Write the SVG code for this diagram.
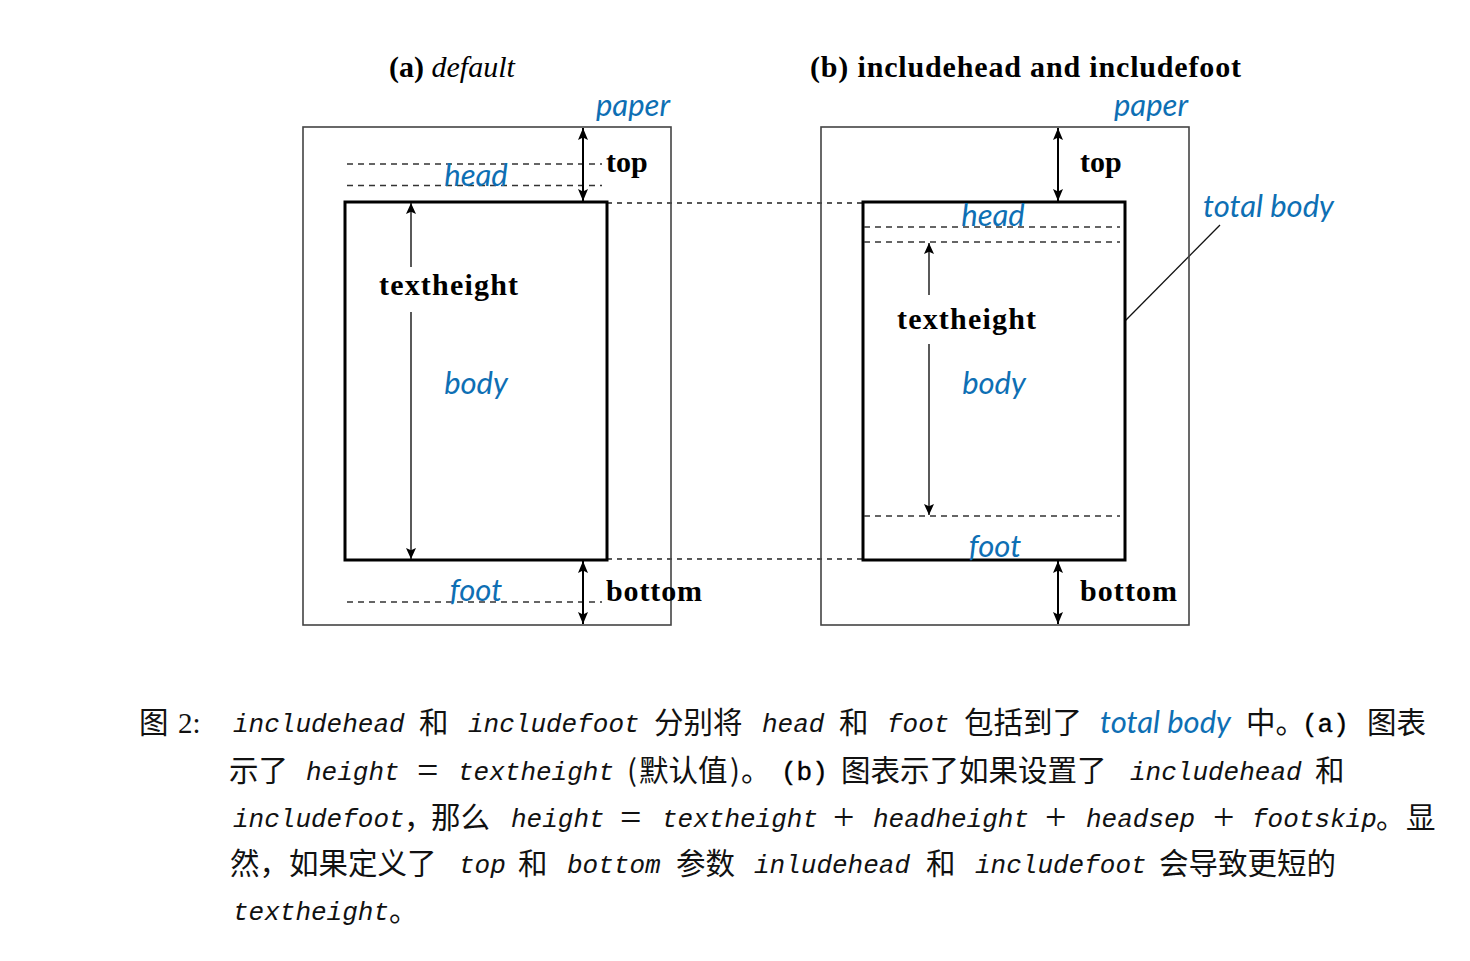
<svg xmlns="http://www.w3.org/2000/svg" width="1470" height="961" viewBox="0 0 1470 961">
<style>
.paper{fill:none;stroke:#444;stroke-width:1.6}
.body{fill:none;stroke:#000;stroke-width:3}
.dash{fill:none;stroke:#333;stroke-width:1.3;stroke-dasharray:6 5}
.conn{fill:none;stroke:#222;stroke-width:1.3;stroke-dasharray:5 5}
.arr2{stroke:#000;stroke-width:2;marker-start:url(#ah);marker-end:url(#ah)}
.arr1{stroke:#000;stroke-width:1.3;marker-end:url(#ah2)}
.blue{font-family:Lato,"Noto Sans",sans-serif;font-style:italic;font-size:31px;fill:#0e6fb4}
.bs{font-family:"Liberation Serif",serif;font-weight:bold;font-size:30px;fill:#000}
.ttl{font-family:"Liberation Serif",serif;font-size:30px;fill:#000}
.cj{font-family:"Noto Sans CJK SC",sans-serif;font-size:29.5px;fill:#111}
.tt{font-family:"Liberation Mono",monospace;font-style:italic;font-size:26px;fill:#111}
.tu{font-family:"Liberation Mono",monospace;font-size:26px;fill:#000;stroke:#000;stroke-width:0.4}
.rm{font-family:"Liberation Serif",serif;font-size:29px;fill:#111}
.op{font-family:"Liberation Serif",serif;font-size:38px;fill:#111}
</style>
<defs>
<marker id="ah" markerUnits="userSpaceOnUse" markerWidth="13" markerHeight="10" refX="12" refY="5" orient="auto-start-reverse">
<path d="M0,0 L12,5 L0,10 L2.5,5 z" fill="#000"/>
</marker>
<marker id="ah2" markerUnits="userSpaceOnUse" markerWidth="12" markerHeight="10" refX="11" refY="5" orient="auto">
<path d="M0,0 L11,5 L0,10 L2.3,5 z" fill="#000"/>
</marker>
</defs>
<rect width="1470" height="961" fill="#fff"/>

<g id="title-a"><text class="ttl" x="389" y="77"><tspan font-weight="bold">(a) </tspan><tspan font-style="italic">default</tspan></text></g>
<g id="title-b"><text class="ttl" x="810" y="77" font-weight="bold" textLength="431" lengthAdjust="spacing">(b) includehead and includefoot</text></g>

<g id="connectors">
<line class="conn" x1="607" y1="203" x2="863" y2="203"/>
<line class="conn" x1="607" y1="559" x2="863" y2="559"/>
<line x1="1125" y1="321" x2="1220" y2="225" stroke="#111" stroke-width="1.3"/>
</g>

<g id="paper-a">
<rect class="paper" x="303" y="127" width="368" height="498"/>
<text class="blue" x="670" y="116" text-anchor="end">paper</text>
</g>
<g id="head-a">
<line class="dash" x1="347" y1="164" x2="602" y2="164"/>
<line class="dash" x1="347" y1="185.5" x2="602" y2="185.5"/>
<text class="blue" x="476" y="186" text-anchor="middle">head</text>
</g>
<g id="foot-a">
<line class="dash" x1="347" y1="602" x2="602" y2="602"/>
<text class="blue" x="476" y="601" text-anchor="middle">foot</text>
</g>
<g id="body-a">
<rect class="body" x="345" y="202" width="262" height="358"/>
<text class="blue" x="476" y="394" text-anchor="middle">body</text>
</g>
<g id="top-a">
<line class="arr2" x1="583" y1="128" x2="583" y2="201"/>
<text class="bs" x="606" y="172">top</text>
</g>
<g id="bottom-a">
<line class="arr2" x1="583" y1="561" x2="583" y2="624"/>
<text class="bs" x="606" y="601" textLength="96" lengthAdjust="spacing">bottom</text>
</g>
<g id="textheight-a">
<line class="arr1" x1="411" y1="267" x2="411" y2="203"/>
<line class="arr1" x1="411" y1="312" x2="411" y2="559"/>
<text class="bs" x="379" y="295" font-size="31" textLength="139" lengthAdjust="spacing">textheight</text>
</g>

<g id="paper-b">
<rect class="paper" x="821" y="127" width="368" height="498"/>
<text class="blue" x="1188" y="116" text-anchor="end">paper</text>
</g>
<g id="body-b">
<rect class="body" x="863" y="202" width="262" height="358"/>
<text class="blue" x="994" y="394" text-anchor="middle">body</text>
</g>
<g id="head-b">
<line class="dash" x1="864" y1="227" x2="1120" y2="227"/>
<line class="dash" x1="864" y1="242" x2="1120" y2="242"/>
<text class="blue" x="993" y="226" text-anchor="middle">head</text>
</g>
<g id="foot-b">
<line class="dash" x1="864" y1="516" x2="1120" y2="516"/>
<text class="blue" x="995" y="557" text-anchor="middle">foot</text>
</g>
<g id="top-b">
<line class="arr2" x1="1058" y1="128" x2="1058" y2="201"/>
<text class="bs" x="1080" y="172">top</text>
</g>
<g id="bottom-b">
<line class="arr2" x1="1058" y1="561" x2="1058" y2="624"/>
<text class="bs" x="1080" y="601" textLength="97" lengthAdjust="spacing">bottom</text>
</g>
<g id="textheight-b">
<line class="arr1" x1="929" y1="295" x2="929" y2="243"/>
<line class="arr1" x1="929" y1="344" x2="929" y2="515"/>
<text class="bs" x="897" y="329" font-size="31" textLength="139" lengthAdjust="spacing">textheight</text>
</g>
<g id="totalbody-label">
<text class="blue" x="1203" y="217">total body</text>
</g>

<g id="caption">
<text class="cj" x="139" y="733">图</text>
<text class="rm" x="178" y="733">2:</text>
<text class="tt" x="233" y="732">includehead</text>
<text class="cj" x="419" y="733">和</text>
<text class="tt" x="468" y="732">includefoot</text>
<text class="cj" x="654" y="733">分别将</text>
<text class="tt" x="762" y="732">head</text>
<text class="cj" x="839" y="733">和</text>
<text class="tt" x="887" y="732">foot</text>
<text class="cj" x="964" y="733">包括到了</text>
<text class="blue" x="1100" y="733" font-size="30">total body</text>
<text class="cj" x="1246" y="733">中。</text>
<text class="tu" x="1302" y="732">(a)</text>
<text class="cj" x="1367" y="733">图表</text>

<text class="cj" x="229" y="781">示了</text>
<text class="tt" x="306" y="780">height</text>
<text class="op" x="417" y="783">=</text>
<text class="tt" x="458" y="780">textheight</text>
<text class="cj" x="627" y="781">(</text>
<text class="cj" x="639" y="781">默认值</text>
<text class="cj" x="730" y="781">)</text>
<text class="cj" x="741" y="781">。</text>
<text class="tu" x="781" y="780">(b)</text>
<text class="cj" x="841" y="781">图表示了如果设置了</text>
<text class="tt" x="1130" y="780">includehead</text>
<text class="cj" x="1315" y="781">和</text>

<text class="tt" x="233" y="827">includefoot</text>
<text class="cj" x="404" y="828">，</text>
<text class="cj" x="431" y="828">那么</text>
<text class="tt" x="511" y="827">height</text>
<text class="op" x="620" y="830">=</text>
<text class="tt" x="662" y="827">textheight</text>
<text class="op" x="833" y="830">+</text>
<text class="tt" x="873" y="827">headheight</text>
<text class="op" x="1045" y="830">+</text>
<text class="tt" x="1086" y="827">headsep</text>
<text class="op" x="1213" y="830">+</text>
<text class="tt" x="1252" y="827">footskip</text>
<text class="cj" x="1376" y="828">。</text>
<text class="cj" x="1406" y="828">显</text>

<text class="cj" x="230" y="874">然，如果定义了</text>
<text class="tt" x="459" y="873">top</text>
<text class="cj" x="518" y="874">和</text>
<text class="tt" x="567" y="873">bottom</text>
<text class="cj" x="676" y="874">参数</text>
<text class="tt" x="754" y="873">inludehead</text>
<text class="cj" x="926" y="874">和</text>
<text class="tt" x="975" y="873">includefoot</text>
<text class="cj" x="1159" y="874">会导致更短的</text>

<text class="tt" x="233" y="920">textheight</text>
<text class="cj" x="389" y="921">。</text>
</g>
</svg>
